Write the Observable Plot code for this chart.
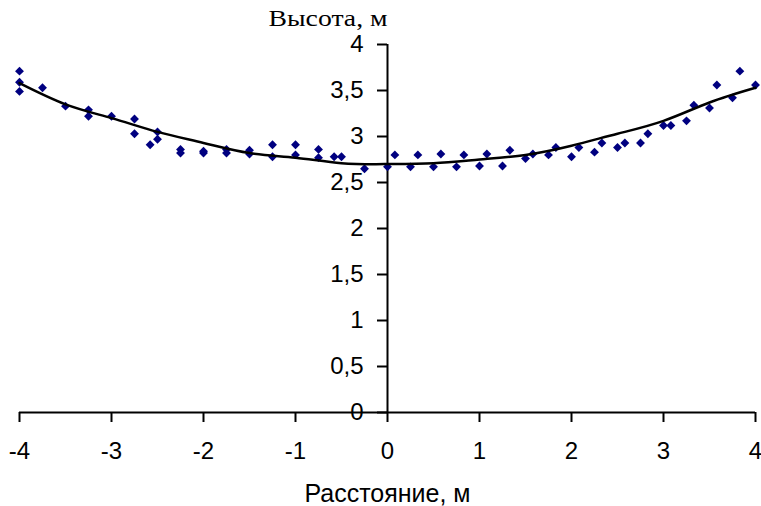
<!DOCTYPE html>
<html><head><meta charset="utf-8">
<script src="https://cdn.jsdelivr.net/npm/d3@7"></script>
<script src="https://cdn.jsdelivr.net/npm/@observablehq/plot@0.6"></script>
<style>body{margin:0;background:#fff}</style>
</head><body><div id="chart"></div>
<script>
const xTicks = [-4, -3, -2, -1, 0, 1, 2, 3, 4];
const yTicks = [0, 0.5, 1, 1.5, 2, 2.5, 3, 3.5, 4];
const pointX = [-4, -4, -4, -3.75, -3.5, -3.25, -3.25, -3.0, -2.75, -2.75, -2.58, -2.5, -2.5, -2.25, -2.25,
  -2.0, -2.0, -1.75, -1.75, -1.5, -1.5, -1.25, -1.25, -1.0, -1.0, -0.75, -0.75, -0.58, -0.5, -0.25,
  0, 0.08, 0.25, 0.33, 0.5, 0.58, 0.75, 0.83, 1.0, 1.08, 1.25, 1.33, 1.5, 1.58, 1.75, 1.83,
  2.0, 2.08, 2.25, 2.33, 2.5, 2.58, 2.75, 2.83, 3.0, 3.08, 3.25, 3.33, 3.5, 3.58, 3.75, 3.83, 4.0];
const pointY = [3.71, 3.59, 3.49, 3.53, 3.33, 3.29, 3.22, 3.22, 3.19, 3.03, 2.91, 3.05, 2.97, 2.86, 2.82,
  2.84, 2.82, 2.86, 2.82, 2.85, 2.81, 2.91, 2.78, 2.91, 2.80, 2.86, 2.77, 2.78, 2.78, 2.65,
  2.67, 2.80, 2.67, 2.80, 2.67, 2.81, 2.67, 2.80, 2.68, 2.81, 2.68, 2.85, 2.76, 2.81, 2.80, 2.88,
  2.78, 2.88, 2.83, 2.93, 2.88, 2.93, 2.93, 3.03, 3.12, 3.12, 3.17, 3.34, 3.31, 3.56, 3.42, 3.71, 3.56];
const trendX = [-4, -3.5, -3, -2.5, -2, -1.5, -1, -0.5, 0, 0.5, 1, 1.5, 2, 2.5, 3, 3.5, 4];
const trendY = [3.58, 3.35, 3.20, 3.05, 2.93, 2.82, 2.77, 2.71, 2.70, 2.71, 2.75, 2.80, 2.90, 3.03, 3.17, 3.37, 3.53];

const points = pointX.map((x, i) => ({x, y: pointY[i]}));
const trend = trendX.map((x, i) => ({x, y: trendY[i]}));

const chart = Plot.plot({
  width: 761, height: 506,
  marginLeft: 19, marginRight: 6, marginTop: 44, marginBottom: 94,
  style: {fontFamily: "'Liberation Sans', Arial, sans-serif", fontSize: "24px", color: "#000", background: "#fff"},
  x: {domain: [-4, 4]},
  y: {domain: [0, 4]},
  marks: [
    Plot.axisX({anchor: "bottom", ticks: xTicks, tickSize: 10, strokeWidth: 2, tickFormat: () => "", label: null}),
    Plot.axisY({anchor: "left", ticks: yTicks, dx: 368, tickSize: 10, strokeWidth: 2, tickFormat: () => "", label: null}),
    Plot.text(xTicks, {x: d => d, y: 0, dy: 39, text: d => String(d), fontSize: 24, textAnchor: "middle"}),
    Plot.text(yTicks, {x: 0, y: d => d, dx: -24, text: d => String(d).replace(".", ","), fontSize: 24, textAnchor: "end"}),
    Plot.ruleY([0], {stroke: "#000", strokeWidth: 2}),
    Plot.ruleX([0], {stroke: "#000", strokeWidth: 2}),
    Plot.dot(points, {x: "x", y: "y", symbol: "diamond2", r: 4, fill: "#000080", stroke: "none"}),
    Plot.line(trend, {x: "x", y: "y", stroke: "#000", strokeWidth: 2.5, curve: "natural"}),
    Plot.text(["Высота, м"], {x: 0, y: 4, dy: -26, textAnchor: "end", className: "ytitle",
      fontFamily: "'Liberation Serif', 'Times New Roman', serif", fontSize: 24}),
    Plot.text(["Расстояние, м"], {x: 0, y: 0, dy: 81, textAnchor: "middle", fontSize: 25})
  ]
});
d3.select(chart).selectAll(".ytitle text").attr("textLength", 119).attr("lengthAdjust", "spacingAndGlyphs");
document.getElementById("chart").appendChild(chart);
</script>
</body></html>
